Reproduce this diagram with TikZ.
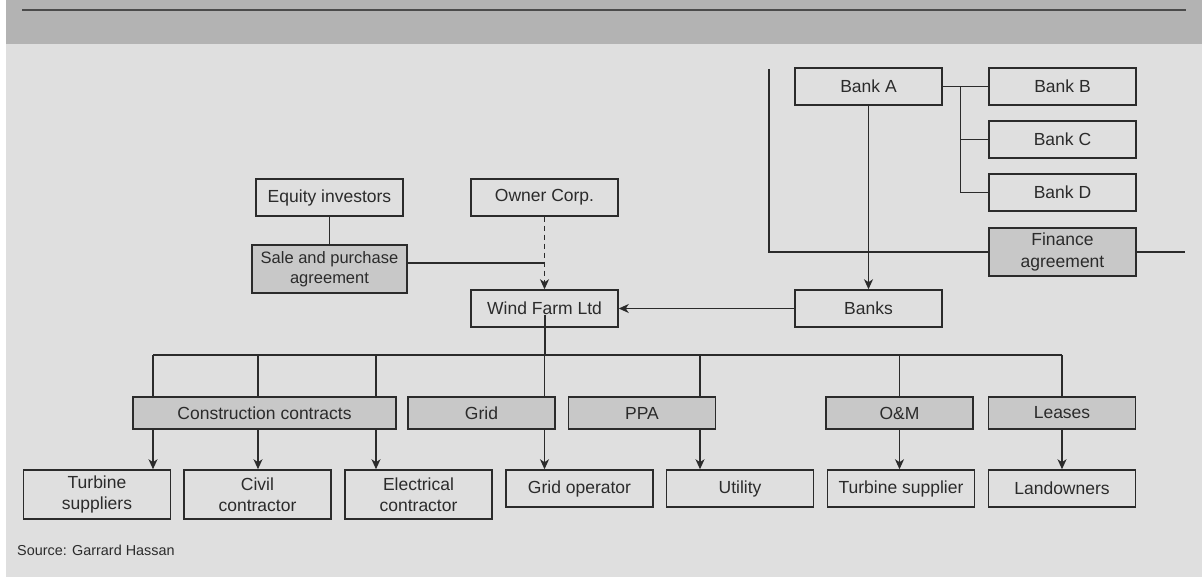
\documentclass[tikz,border=0pt]{standalone}
\usepackage{fontspec}
\setmainfont{Liberation Sans}
\usetikzlibrary{arrows.meta}
\definecolor{panel}{HTML}{DFDFDF}
\definecolor{band}{HTML}{B3B3B3}
\definecolor{shade}{HTML}{C8C8C8}
\definecolor{ink}{HTML}{2B2B2B}
\tikzstyle{party} = [rectangle, minimum width=147pt, minimum height=37pt, inner sep=0pt, text centered, align=center, draw=ink, line width=1.5pt]
\tikzstyle{contract} = [party, minimum height=32pt, fill=shade]
\tikzstyle{link} = [draw=ink, line width=1.4pt]
\tikzstyle{arrow} = [link, ->, >={Stealth[length=10pt,width=9pt,inset=3pt]}]

\begin{document}
\begin{tikzpicture}[x=1pt, y=-1pt, node distance=53pt, font=\fontsize{17.5}{21.5}\selectfont, text=ink]

\useasboundingbox (0,0) rectangle (1202,577);
\fill[white] (0,0) rectangle (1202,577);
\fill[band] (6,0) rectangle (1202,44);
\fill[panel] (6,44) rectangle (1202,577);
\draw[line width=2.5pt, ink!85] (22,10) -- (1186,10);

% owners
\node (equity) [party] at (329.5,197.5) {Equity investors};
\node (spa) [contract, minimum width=155pt, minimum height=48pt, font=\fontsize{16.5}{20.5}\selectfont] at (329.5,269) {Sale and purchase\\agreement};
\node (owner) [party] at (544.5,197.5) {Owner Corp.};
\node (windfarm) [party] at (544.5,308.5) {Wind Farm Ltd};

% lenders
\node (bankA) [party] at (868.5,86.5) {Bank A};
\node (bankB) [party] at (1062.5,86.5) {Bank B};
\node (bankC) [party, below of=bankB] {Bank C};
\node (bankD) [party, below of=bankC] {Bank D};
\node (finance) [contract, minimum height=48pt] at (1062.5,252) {Finance\\agreement};
\node (banks) [party] at (868.5,308.5) {Banks};

% contracts
\node (cc) [contract, minimum width=263pt] at (264.5,413) {Construction contracts};
\node (grid) [contract] at (481.5,413) {Grid};
\node (ppa) [contract] at (642,413) {PPA};
\node (om) [contract] at (899.5,413) {O\&M};
\node (leases) [contract] at (1062,413) {Leases};

% counterparties
\node (turbines) [party, minimum height=49pt] at (97,494.5) {Turbine\\suppliers};
\node (civil) [party, minimum height=49pt] at (257.5,494.5) {Civil\\contractor};
\node (electrical) [party, minimum height=49pt] at (418.5,494.5) {Electrical\\contractor};
\node (gridop) [party] at (579.5,488.5) {Grid operator};
\node (utility) [party] at (740,488.5) {Utility};
\node (tsupplier) [party] at (901,488.5) {Turbine supplier};
\node (landowners) [party] at (1062,488.5) {Landowners};

\node (source) [anchor=west, inner sep=0pt, font=\fontsize{14.4}{16}\selectfont] at (17,550) {Source: Garrard Hassan};

\draw [link] (equity) -- (spa);
\draw [link] ([yshift=6pt]spa.east) -- ([yshift=6pt]spa.east -| owner);
\draw [arrow, dash pattern=on 5pt off 4pt] (owner) -- (windfarm);
\draw [arrow] (bankA) -- (banks);
\draw [arrow] (banks) -- (windfarm);
\draw [link] (bankA) -- (bankB);
\draw [link] ([xshift=18pt]bankA.east) |- (bankC);
\draw [link] ([xshift=18pt]bankA.east) |- (bankD);

\coordinate (fintop) at (769,69);
\coordinate (finend) at (1185,252);
\draw [link] (fintop) |- (finance);
\draw [link] (finance) -- (finend);

\coordinate (busL) at (153,355);
\coordinate (busM) at (899.5,355);
\coordinate (busR) at (1062,355);
\draw [link, line width=2pt] ([yshift=-7pt]windfarm.center) -- (windfarm |- busL);
\draw [link, line width=2pt] (busL) -- (busM);
\draw [link] (busM) -- (busR);
\foreach \x/\deal/\firm in {153/cc/turbines, 258/cc/civil, 376/cc/electrical, 544.5/grid/gridop, 700/ppa/utility, 899.5/om/tsupplier, 1062/leases/landowners} {
  \coordinate (tap) at (\x,355);
  \draw [link] (tap) -- (tap |- \deal.north);
  \draw [arrow] (tap |- \deal.south) -- (tap |- \firm.north);
}

\end{tikzpicture}
\end{document}
